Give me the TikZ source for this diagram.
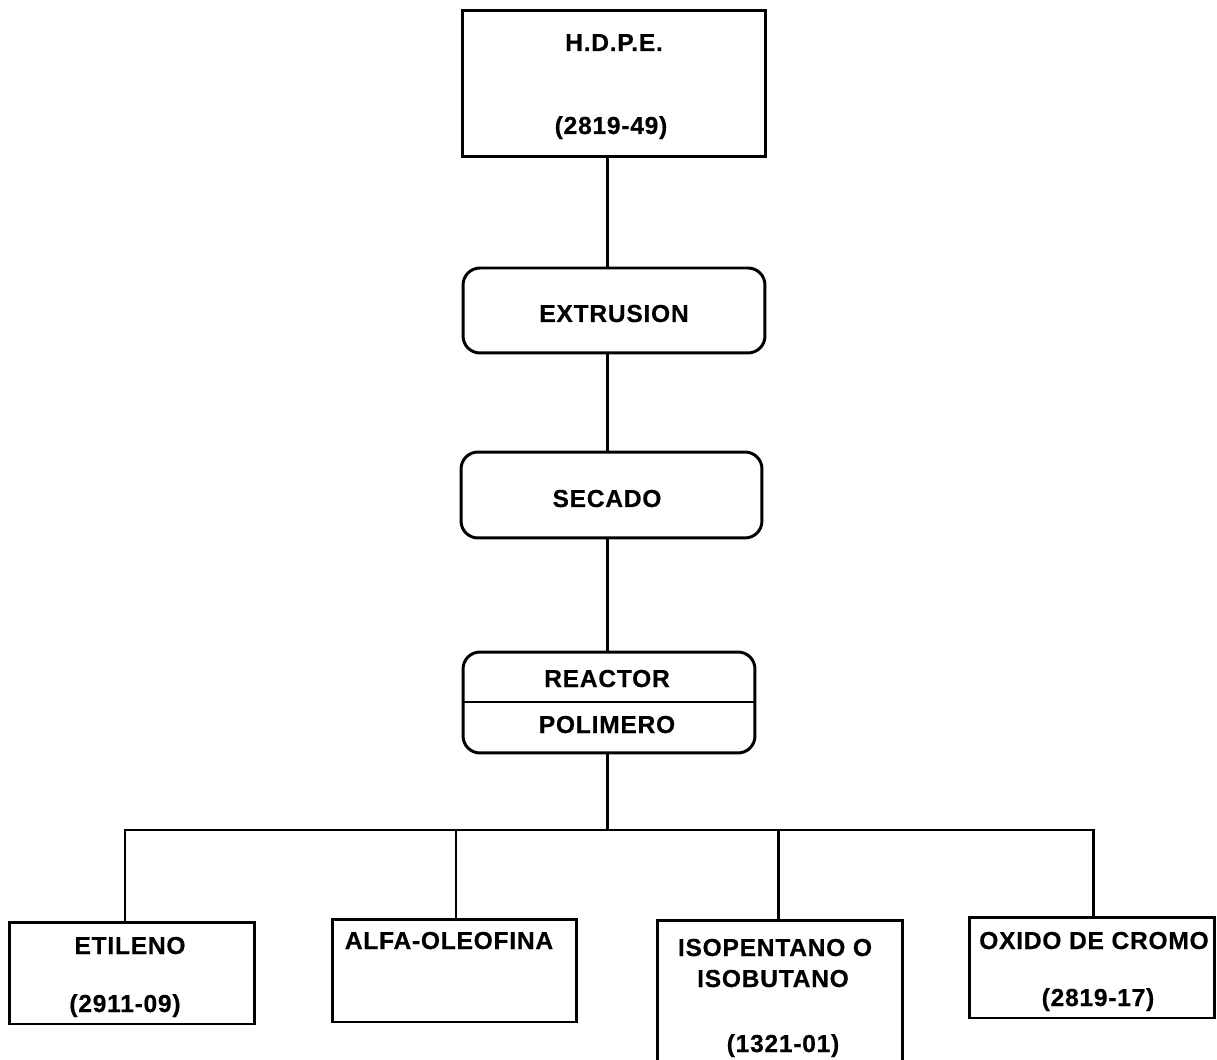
\documentclass[tikz,border=0pt]{standalone}
\usepackage{fontspec}
\setmainfont{Liberation Sans}[FakeBold=0.5,LetterSpace=3]
\begin{document}
\begin{tikzpicture}[x=0.02cm,y=-0.02cm,
  line width=1.7pt,
  box/.style={draw,rectangle,inner sep=0pt},
  rbox/.style={draw,rectangle,rounded corners=0.34cm,inner sep=0pt},
  lbl/.style={anchor=base,inner sep=0pt,font=\fontsize{14}{17}\selectfont\bfseries},
  link/.style={line width=1.7pt}]
\useasboundingbox (0,0) rectangle (1217,1060);
\clip (0,0) rectangle (1217,1060);

% process chain
\node[box,minimum width=6.08cm,minimum height=2.94cm] (hdpe) at (614,83.5) {};
\node[rbox,minimum width=6.04cm,minimum height=1.70cm] (extr) at (614,310.5) {};
\node[rbox,minimum width=6.02cm,minimum height=1.72cm] (sec) at (611.5,495) {};
\node[rbox,minimum width=5.84cm,minimum height=2.02cm] (reac) at (609,702.5) {};
\coordinate (div) at (0,702);
\draw (reac.west |- div) -- (reac.east |- div);

% raw materials
\node[box,minimum width=4.92cm,minimum height=2.04cm] (etil) at (132,973) {};
\node[box,minimum width=4.90cm,minimum height=2.06cm] (alfa) at (454.5,970.5) {};
\node[box,minimum width=4.92cm,minimum height=3.40cm] (iso) at (780,1005) {};
\node[box,minimum width=4.92cm,minimum height=2.02cm] (oxi) at (1092,967.5) {};

% labels
\node[lbl] (t1) at (614,51) {H.D.P.E.};
\node[lbl] (t2) at (611,134) {(2819-49)};
\node[lbl] (t3) at (614,322) {EXTRUSION};
\node[lbl] (t4) at (607,507) {SECADO};
\node[lbl] (t5) at (607,687) {REACTOR};
\node[lbl] (t6) at (607,733) {POLIMERO};
\node[lbl] (t7) at (130,954) {ETILENO};
\node[lbl] (t8) at (125,1012) {(2911-09)};
\node[lbl] (t9) at (449,949) {ALFA-OLEOFINA};
\node[lbl] (t10) at (775,956) {ISOPENTANO O};
\node[lbl] (t11) at (773,987) {ISOBUTANO};
\node[lbl] (t12) at (783,1052) {(1321-01)};
\node[lbl] (t13) at (1094,949) {OXIDO DE CROMO};
\node[lbl] (t14) at (1098,1006) {(2819-17)};

% connectors
\coordinate (spine) at (607,0);
\coordinate (b1) at (125,830);
\coordinate (b2) at (456,830);
\coordinate (b3) at (778,830);
\coordinate (b4) at (1093,830);
\draw[link] (hdpe.south -| spine) -- (extr.north -| spine);
\draw[link] (extr.south -| spine) -- (sec.north -| spine);
\draw[link] (sec.south -| spine) -- (reac.north -| spine);
\draw[link] (reac.south -| spine) -- (spine |- b1);
\draw[link] (b1 |- etil.north) -- (b1) -- (b4) -- (b4 |- oxi.north);
\draw[link] (b2) -- (b2 |- alfa.north);
\draw[link] (b3) -- (b3 |- iso.north);
\end{tikzpicture}
\end{document}
